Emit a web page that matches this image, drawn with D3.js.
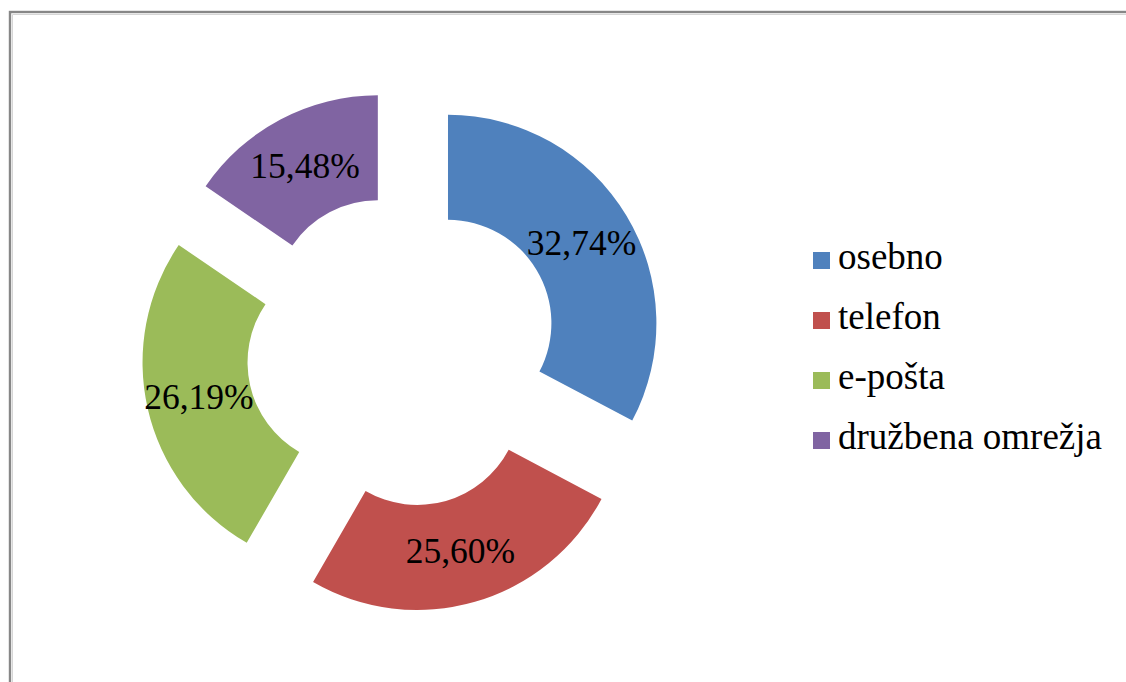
<!DOCTYPE html>
<html>
<head>
<meta charset="utf-8">
<script src="https://cdn.jsdelivr.net/npm/d3@7"></script>
<style>
  html, body { margin: 0; padding: 0; background: #fff; }
  svg { display: block; }
</style>
</head>
<body>
<svg id="chart" width="1126" height="682"></svg>
<script>
// Contact channels, share of responses (%)
const categories = ["osebno", "telefon", "e-pošta", "družbena omrežja"];
const values = [32.74, 25.60, 26.19, 15.48];
const colors = ["#4F81BD", "#C0504D", "#9BBB59", "#8064A2"];

const FONT = '"Liberation Serif"';

const svg = d3.select("#chart");

// chart frame (only top and left edges fall inside the view)
svg.append("rect")
  .attr("x", 10).attr("y", 12)
  .attr("width", 1200).attr("height", 800)
  .attr("fill", "#fff")
  .attr("stroke", "#878787").attr("stroke-width", 2.4);
svg.append("path")
  .attr("d", "M12.5,800 V14.5 H1200")
  .attr("fill", "none")
  .attr("stroke", "#d6d6d6").attr("stroke-width", 1);

const cx = 402.6, cy = 350.6;
const outerR = 208.4, innerR = 103.4;
const explode = 53;

const pie = d3.pie().sort(null).startAngle(0).endAngle(2 * Math.PI).value(d => d);
const arcs = pie(values);

const arc = d3.arc().innerRadius(innerR).outerRadius(outerR);
const labelArc = d3.arc().innerRadius((innerR + outerR) / 2).outerRadius((innerR + outerR) / 2);

const g = svg.append("g").attr("transform", `translate(${cx},${cy})`);

const slices = g.selectAll("g.slice")
  .data(arcs)
  .join("g")
  .attr("class", "slice")
  .attr("transform", d => {
    const a = (d.startAngle + d.endAngle) / 2;
    return `translate(${explode * Math.sin(a)},${-explode * Math.cos(a)})`;
  });

slices.append("path")
  .attr("d", arc)
  .attr("fill", (d, i) => colors[i]);

const fmt = v => v.toFixed(2).replace(".", ",") + "%";

slices.append("text")
  .attr("transform", d => `translate(${labelArc.centroid(d)})`)
  .attr("text-anchor", "middle")
  .attr("dy", "0.34em")
  .style("font-family", FONT)
  .style("font-size", "35.5px")
  .attr("fill", "#000")
  .text(d => fmt(d.data));

// legend
const legend = svg.append("g").attr("transform", "translate(813,269)");
const rows = legend.selectAll("g")
  .data(categories)
  .join("g")
  .attr("transform", (d, i) => `translate(0,${i * 60})`);
rows.append("rect")
  .attr("x", 0).attr("y", -17)
  .attr("width", 17).attr("height", 17)
  .attr("fill", (d, i) => colors[i]);
rows.append("text")
  .attr("x", 25).attr("y", 0)
  .style("font-family", FONT)
  .style("font-size", "37px")
  .attr("fill", "#000")
  .text(d => d);
</script>
</body>
</html>
